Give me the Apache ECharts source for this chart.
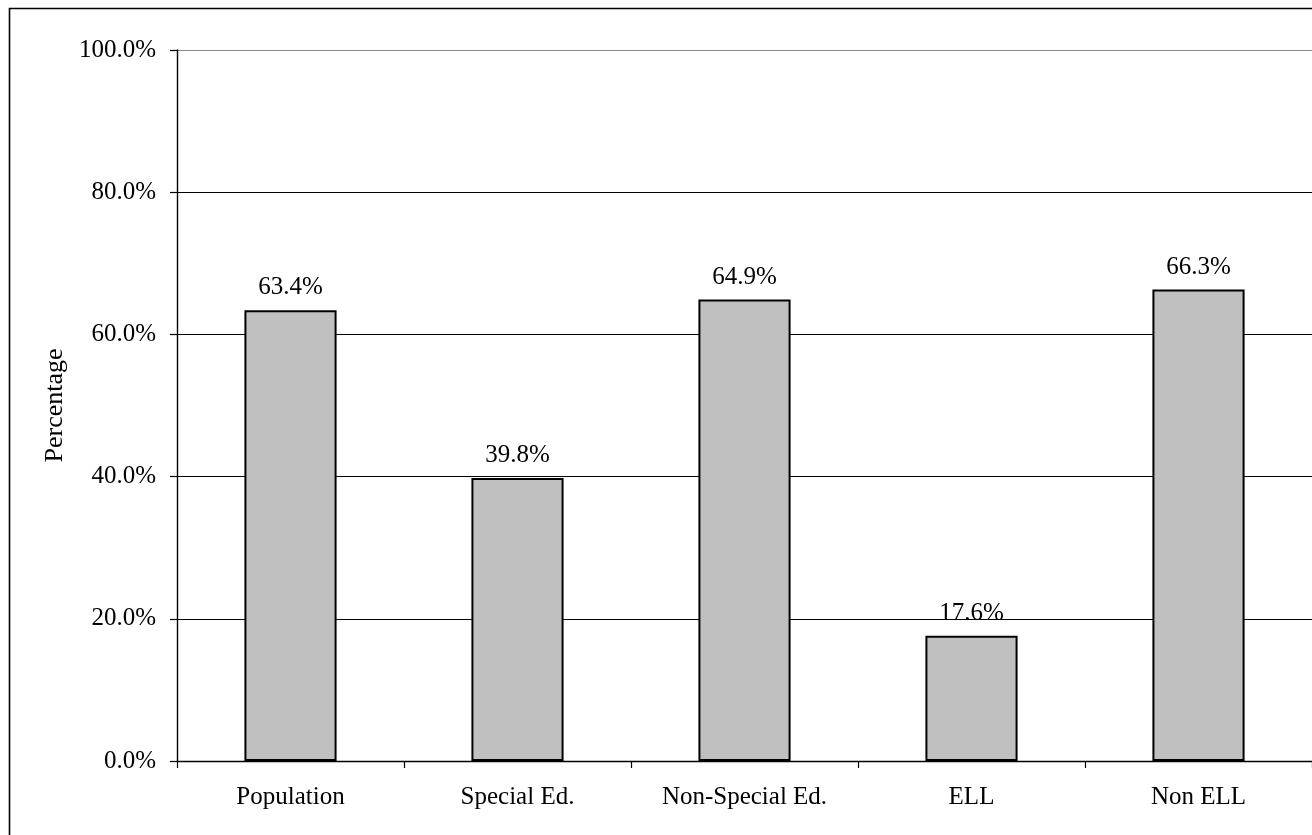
<!DOCTYPE html>
<html>
<head>
<meta charset="utf-8">
<script src="https://cdn.jsdelivr.net/npm/echarts@6/dist/echarts.min.js"></script>
<style>
html,body{margin:0;padding:0;background:#fff;}
#chart{width:1312px;height:835px;}
</style>
</head>
<body>
<div id="chart"></div>
<script>
const categories = ['Population', 'Special Ed.', 'Non-Special Ed.', 'ELL', 'Non ELL'];
const values = [63.4, 39.8, 64.9, 17.6, 66.3];
const yAxisName = 'Percentage';
const yMin = 0, yMax = 100, yStep = 20;

const font = '"Liberation Serif", "Times New Roman", serif';
const chart = echarts.init(document.getElementById('chart'), null, {renderer: 'canvas'});
chart.setOption({
  animation: false,
  backgroundColor: '#fff',
  graphic: [{
    type: 'rect',
    shape: {x: 9.5, y: 8.5, width: 2000, height: 2000},
    style: {fill: 'none', stroke: '#000', lineWidth: 1.6},
    silent: true, z: 100
  }],
  grid: {left: 177, top: 50, width: 1135, height: 711, containLabel: false},
  xAxis: {
    type: 'category',
    data: categories,
    axisLine: {lineStyle: {color: '#000', width: 1.4}},
    axisTick: {show: true, length: 7, inside: false, alignWithLabel: false, lineStyle: {color: '#000', width: 1.2}},
    axisLabel: {color: '#000', fontFamily: font, fontSize: 25, margin: 24},
    splitLine: {show: false}
  },
  yAxis: {
    type: 'value',
    min: yMin, max: yMax, interval: yStep,
    name: yAxisName,
    nameLocation: 'middle',
    nameGap: 107,
    nameRotate: 90,
    nameTextStyle: {color: '#000', fontFamily: font, fontSize: 26},
    axisLine: {show: true, lineStyle: {color: '#000', width: 1.4}},
    axisTick: {show: true, length: 7, inside: false, lineStyle: {color: '#000', width: 1.2}},
    axisLabel: {color: '#000', fontFamily: font, fontSize: 25, margin: 21,
      formatter: v => v.toFixed(1) + '%'},
    splitLine: {show: true, lineStyle: {color: ['#000', '#000', '#000', '#000', '#000', '#8a8a8a'], width: 1.2}}
  },
  series: [{
    type: 'bar',
    data: values,
    barWidth: '40.6%',
    itemStyle: {color: '#c0c0c0', borderColor: '#000', borderWidth: 2},
    label: {show: true, position: 'top', distance: 10, color: '#000', fontFamily: font, fontSize: 25,
      formatter: p => p.value.toFixed(1) + '%'}
  }]
});
</script>
</body>
</html>
